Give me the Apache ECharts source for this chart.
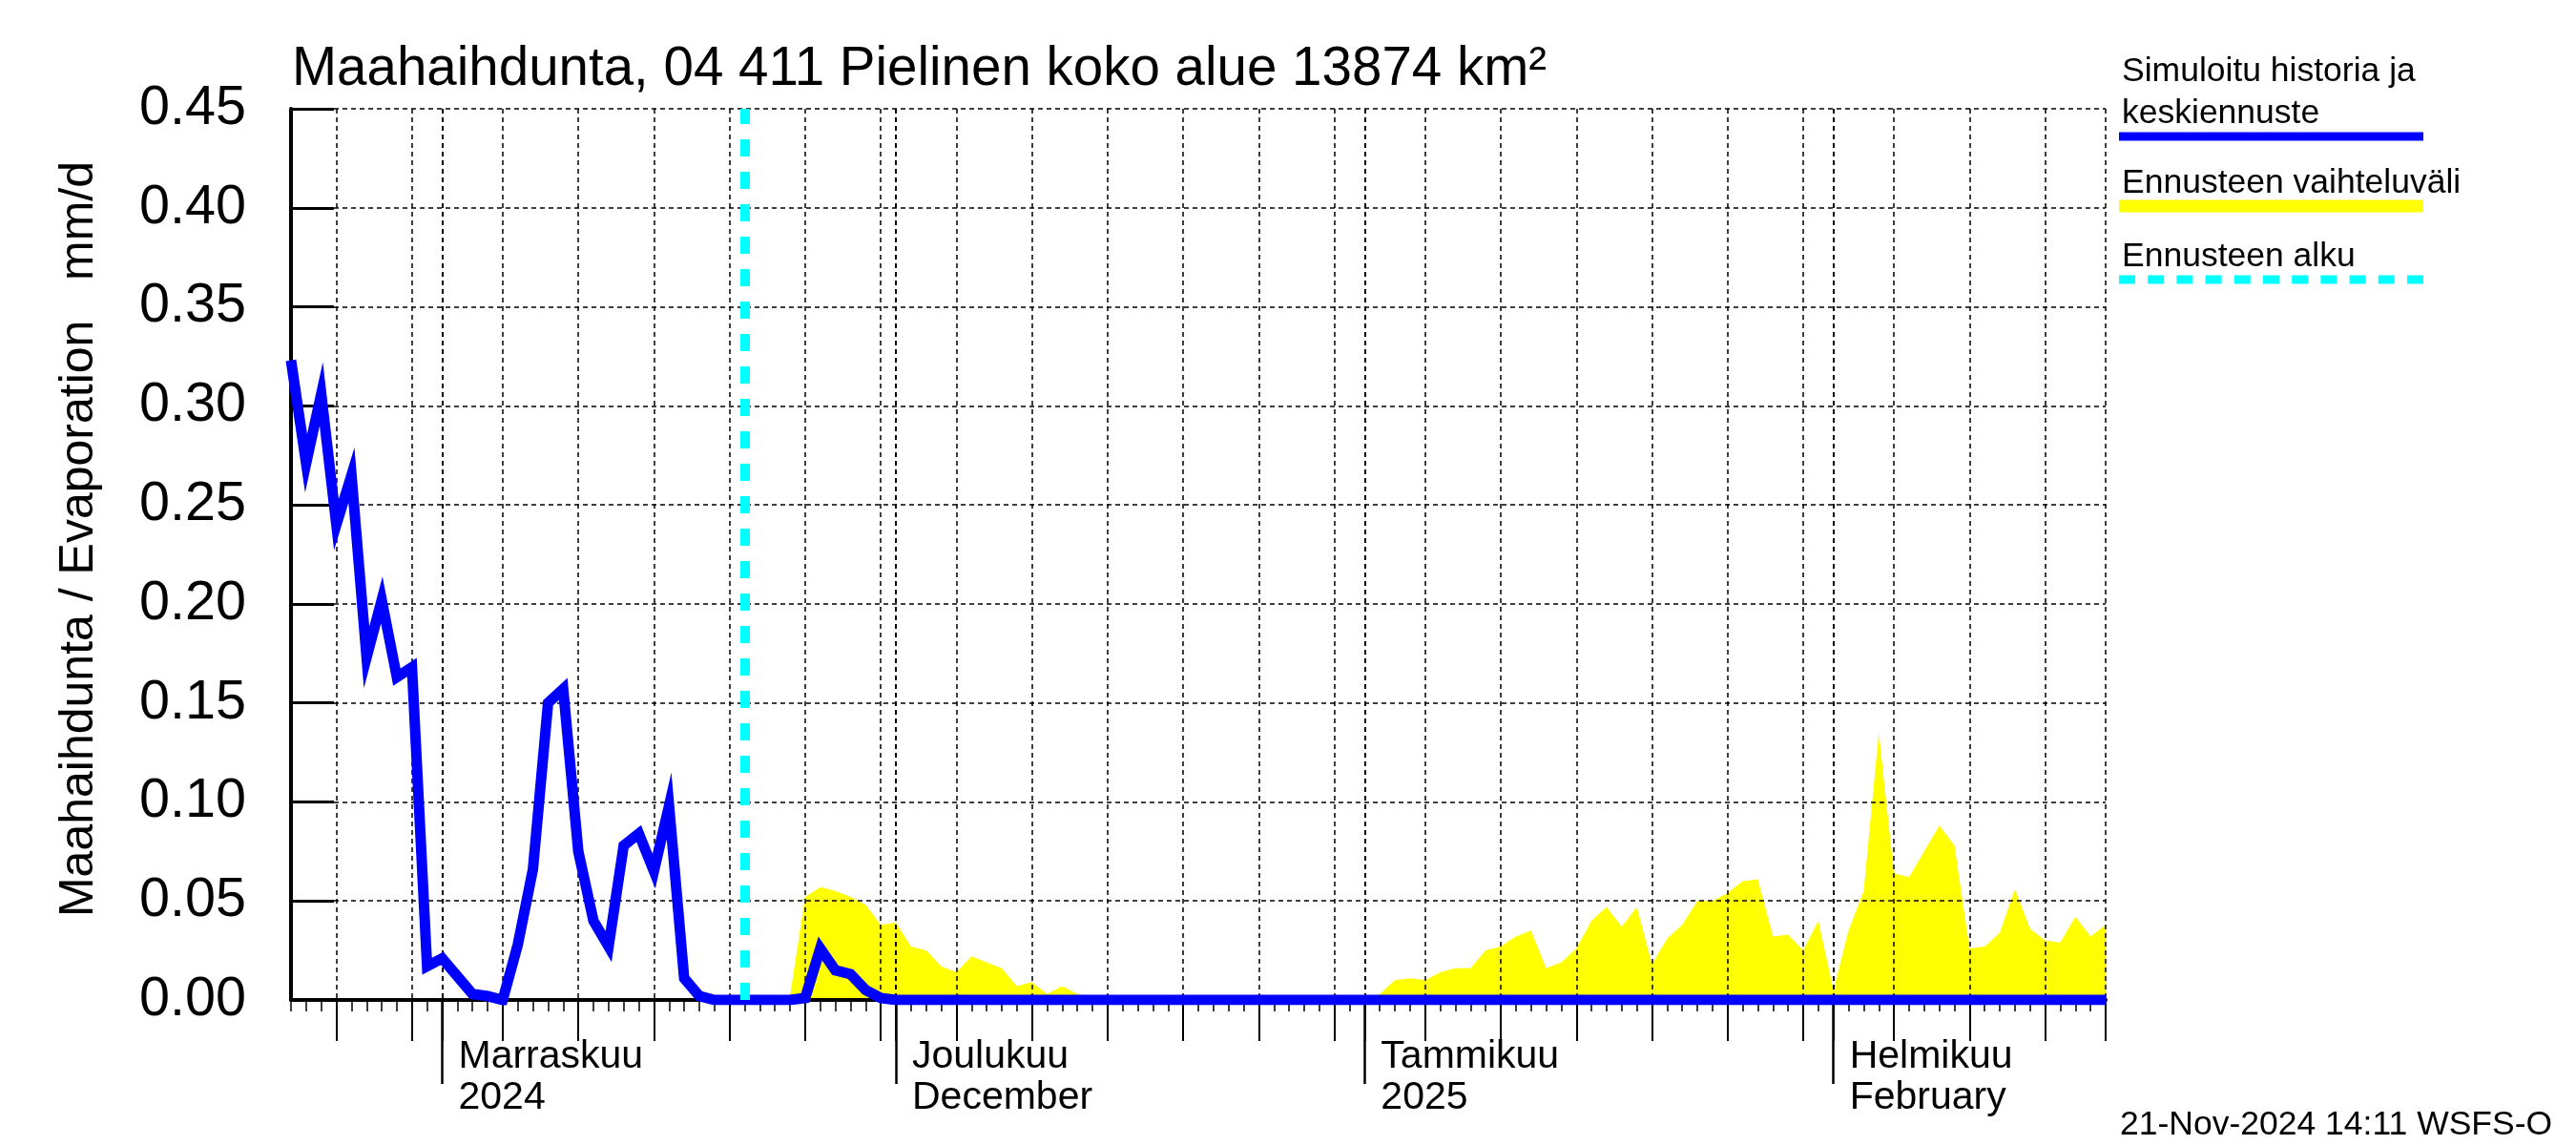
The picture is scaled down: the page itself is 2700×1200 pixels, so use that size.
<!DOCTYPE html>
<html><head><meta charset="utf-8">
<script src="https://cdn.jsdelivr.net/npm/echarts/dist/echarts.min.js"></script>
<style>html,body{margin:0;padding:0;background:#fff}#c{width:2700px;height:1200px}</style>
</head><body><div id="c"></div><script>
// ---- data ----
const startDate = '2024-10-22';
const dayCount = 121;            // 2024-10-22 .. 2025-02-19
const forecastStart = '2024-11-21';
const monthLabels = {11: 'Marraskuu\n2024', 12: 'Joulukuu\nDecember', 1: 'Tammikuu\n2025', 2: 'Helmikuu\nFebruary'};
const yTicks = [0.00, 0.05, 0.10, 0.15, 0.20, 0.25, 0.30, 0.35, 0.40, 0.45];

// simulated history + median forecast (mm/d), one value per day from startDate
const medianValues = [
  0.323, 0.271, 0.306, 0.240, 0.265, 0.173, 0.202, 0.163, 0.168, 0.017,
  0.021, 0.012, 0.003, 0.002, 0.000, 0.028, 0.066, 0.150, 0.157, 0.075,
  0.040, 0.027, 0.078, 0.084, 0.065, 0.098, 0.011, 0.002, 0.000, 0.000,
  0.000, 0.000, 0.000, 0.000, 0.001, 0.026, 0.015, 0.013, 0.005, 0.001,
  0, 0, 0, 0, 0, 0, 0, 0, 0, 0,
  0, 0, 0, 0, 0, 0, 0, 0, 0, 0,
  0, 0, 0, 0, 0, 0, 0, 0, 0, 0,
  0, 0, 0, 0, 0, 0, 0, 0, 0, 0,
  0, 0, 0, 0, 0, 0, 0, 0, 0, 0,
  0, 0, 0, 0, 0, 0, 0, 0, 0, 0,
  0, 0, 0, 0, 0, 0, 0, 0, 0, 0,
  0, 0, 0, 0, 0, 0, 0, 0, 0, 0,
  0
];
// forecast range upper bound (lower bound is 0), null before forecast start
const rangeUpper = [
  null, null, null, null, null, null, null, null, null, null,
  null, null, null, null, null, null, null, null, null, null,
  null, null, null, null, null, null, null, null, null, null,
  0.000, 0.002, 0.001, 0.002, 0.052, 0.057, 0.055, 0.052, 0.048, 0.038,
  0.039, 0.027, 0.025, 0.017, 0.014, 0.022, 0.019, 0.016, 0.007, 0.009,
  0.003, 0.007, 0.003, 0.001, 0.000, 0.000, 0.000, 0.000, 0.000, 0.000,
  0.000, 0.000, 0.000, 0.000, 0.000, 0.000, 0.000, 0.000, 0.000, 0.000,
  0.000, 0.000, 0.003, 0.010, 0.011, 0.010, 0.014, 0.016, 0.016, 0.025,
  0.027, 0.032, 0.035, 0.016, 0.019, 0.026, 0.040, 0.047, 0.037, 0.047,
  0.018, 0.031, 0.038, 0.050, 0.050, 0.054, 0.060, 0.061, 0.032, 0.033,
  0.025, 0.040, 0.005, 0.035, 0.055, 0.135, 0.064, 0.062, 0.075, 0.088,
  0.078, 0.026, 0.027, 0.034, 0.056, 0.036, 0.030, 0.029, 0.042, 0.032,
  0.038
];

// ---- categories (one per day) ----
const days = [];
{
  const d0 = new Date(startDate + 'T00:00:00Z');
  for (let i = 0; i < dayCount; i++) {
    const d = new Date(d0.getTime() + i * 86400000);
    days.push(d.toISOString().slice(0, 10));
  }
}
const dom = s => parseInt(s.slice(8, 10), 10);
const mon = s => parseInt(s.slice(5, 7), 10);
const isMonth = (i, v) => dom(v) === 1;
const isFive = (i, v) => dom(v) === 1 || dom(v) % 5 === 0 || i === dayCount - 1;

const FONT = "'Liberation Sans', Arial, Helvetica, sans-serif";
const chart = echarts.init(document.getElementById('c'), null, {renderer: 'canvas'});

const baseX = {
  type: 'category', data: days, boundaryGap: false, position: 'bottom', z: 2,
  axisLine: {show: false}, axisLabel: {show: false}, splitLine: {show: false}, axisTick: {show: false}
};

chart.setOption({
  animation: false,
  backgroundColor: '#fff',
  title: {
    text: 'Maahaihdunta, 04 411 Pielinen koko alue 13874 km²',
    left: 306, top: 45, padding: 0,
    textStyle: {fontFamily: FONT, fontSize: 56.5, fontWeight: 'normal', color: '#000'}
  },
  grid: {left: 305, right: 493, top: 114, bottom: 152, containLabel: false},
  xAxis: [
    Object.assign({}, baseX, {
      axisLine: {show: true, onZero: false, lineStyle: {color: '#000', width: 4}},
      axisTick: {show: true, interval: 0, length: 12, lineStyle: {color: '#000', width: 1.5}}
    }),
    Object.assign({}, baseX, {
      axisTick: {show: true, interval: isFive, length: 43, lineStyle: {color: '#000', width: 2}},
      splitLine: {show: true, interval: isFive, lineStyle: {color: '#000', width: 1.5, type: [5, 4]}}
    }),
    Object.assign({}, baseX, {
      axisTick: {show: true, interval: isMonth, length: 88, lineStyle: {color: '#000', width: 2.5}},
      splitLine: {show: true, interval: isMonth, lineStyle: {color: '#000', width: 2, type: [5, 4]}},
      axisLabel: {
        show: true, interval: isMonth, margin: 38,
        formatter: v => dom(v) === 1 ? monthLabels[mon(v)] : '',
        fontFamily: FONT, fontSize: 41, lineHeight: 43, color: '#000',
        align: 'left', verticalAlign: 'top', padding: [0, 0, 0, 17]
      }
    })
  ],
  yAxis: {
    type: 'value', min: yTicks[0], max: yTicks[yTicks.length - 1], interval: 0.05, z: 2,
    axisLine: {show: true, lineStyle: {color: '#000', width: 4}},
    axisTick: {show: true, inside: true, length: 45, lineStyle: {color: '#000', width: 3}},
    axisLabel: {margin: 47, fontFamily: FONT, fontSize: 57.5, color: '#000', formatter: v => v.toFixed(2)},
    splitLine: {show: true, lineStyle: {color: '#000', width: 1.5, type: [5, 4]}}
  },
  series: [
    {
      name: 'Ennusteen vaihteluväli', type: 'line', data: rangeUpper, z: 1,
      symbol: 'none', lineStyle: {width: 0}, areaStyle: {color: '#ffff00', opacity: 1},
      connectNulls: false
    },
    {
      name: 'Simuloitu historia ja keskiennuste', type: 'line', data: medianValues, z: 3,
      symbol: 'none', lineStyle: {color: '#0000ff', width: 11, join: 'miter'},
      markLine: {
        silent: true, symbol: 'none', z: 4,
        label: {show: false},
        lineStyle: {color: '#00ffff', width: 10, type: [18, 16]},
        data: [{xAxis: forecastStart}]
      }
    }
  ],
  graphic: [
    {type: 'text', x: 83, y: 565, rotation: Math.PI / 2,
     style: {text: 'Maahaihdunta / Evaporation   mm/d', font: "50px " + FONT, fill: '#000', align: 'center', verticalAlign: 'middle'}},
    {type: 'text', left: 2224, top: 57, style: {text: 'Simuloitu historia ja', font: "35.5px " + FONT, fill: '#000'}},
    {type: 'text', left: 2224, top: 101, style: {text: 'keskiennuste', font: "35.5px " + FONT, fill: '#000'}},
    {type: 'line', shape: {x1: 2221, y1: 143, x2: 2540, y2: 143}, style: {stroke: '#0000ff', lineWidth: 9}},
    {type: 'text', left: 2224, top: 174, style: {text: 'Ennusteen vaihteluväli', font: "35.5px " + FONT, fill: '#000'}},
    {type: 'line', shape: {x1: 2221, y1: 216, x2: 2540, y2: 216}, style: {stroke: '#ffff00', lineWidth: 13}},
    {type: 'text', left: 2224, top: 251, style: {text: 'Ennusteen alku', font: "35.5px " + FONT, fill: '#000'}},
    {type: 'line', shape: {x1: 2221, y1: 293, x2: 2540, y2: 293}, style: {stroke: '#00ffff', lineWidth: 9, lineDash: [17, 13.2]}},
    {type: 'text', left: 2222, top: 1161, style: {text: '21-Nov-2024 14:11 WSFS-O', font: "35.5px " + FONT, fill: '#000'}}
  ]
});
</script></body></html>
